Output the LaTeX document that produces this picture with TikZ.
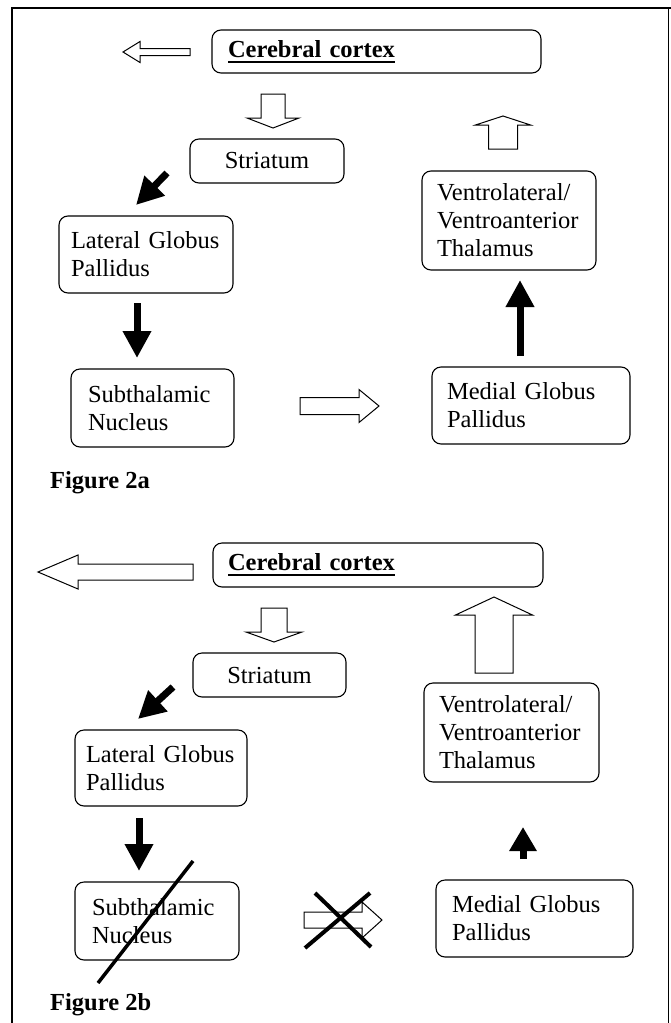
\documentclass[tikz,border=0pt]{standalone}
\usepackage{fontspec}
\setmainfont{Liberation Serif}
\usetikzlibrary{arrows.meta}
\newcommand\thickul[1]{\setbox0\hbox{#1}\leavevmode\rlap{\copy0}\rule[-5.5pt]{\wd0}{1.8pt}}
\begin{document}
\begin{tikzpicture}[x=1pt,y=-1pt,
  box/.style={draw, line width=1.1pt, rounded corners=9pt, inner ysep=0pt, font=\fontsize{24.5}{28}\selectfont},
  hollow/.style={draw, line width=1pt, fill=white, line join=miter},
  blk/.style={line width=7pt, -{Triangle[width=27pt,length=27pt]}},
  blkshort/.style={line width=7pt, -{Triangle[width=26pt,length=24pt]}},
  cross/.style={line width=4pt},
  lab/.style={anchor=west, inner sep=0pt, font=\fontsize{24.5}{28}\selectfont\bfseries}]
\useasboundingbox (0,0) rectangle (671,1023);
\fill[white] (0,0) rectangle (671,1023);
% frame
\draw[line width=2pt] (11,8) -- (671,8);
\draw[line width=1.5pt] (12,8) -- (12,1023);
\draw[line width=1pt] (668,8) -- (668,1023);

% ---------- Figure 2a ----------
\node[box, text width=297pt, inner xsep=16pt, minimum height=43pt, align=left] (cc1) at (376.5,51.5) {\textbf{\thickul{Cerebral cortex}}};
\node[box, minimum width=154pt, minimum height=44pt, align=center] (st1) at (267,161) {Striatum};
\node[box, text width=150pt, inner xsep=12pt, minimum height=77pt, align=left] (lgp1) at (146,254.5) {\mbox{Lateral Globus}\\Pallidus};
\node[box, text width=144pt, inner xsep=15pt, minimum height=99pt, align=left] (vl1) at (509,220.5) {Ventrolateral/\\Ventroanterior\\Thalamus};
\node[box, text width=129pt, inner xsep=17pt, minimum height=78pt, align=left] (stn1) at (152.5,408) {Subthalamic\\Nucleus};
\node[box, text width=168pt, inner xsep=15pt, minimum height=77pt, align=left] (mgp1) at (531,405.5) {\mbox{Medial Globus}\\Pallidus};
\node[lab] (f2a) at (50,483) {Figure 2a};

% hollow arrows 2a
\draw[hollow] (190,48.5) -- (140,48.5) -- (140,41.5) -- (123,52) -- (140,62.5) -- (140,55.5) -- (190,55.5) -- cycle;
\draw[hollow] (261,94) -- (285,94) -- (285,118) -- (299,118) -- (273,128) -- (247,118) -- (261,118) -- cycle;
\draw[hollow] (488.5,149) -- (488.5,125) -- (475.5,125) -- (503,116) -- (530.5,125) -- (517.5,125) -- (517.5,149) -- cycle;
\draw[hollow] (300,397.5) -- (359,397.5) -- (359,389.5) -- (379,406) -- (359,422.5) -- (359,414.5) -- (300,414.5) -- cycle;

% black arrows 2a
\coordinate (a1s) at (167,173); \coordinate (a1e) at (136,205);
\coordinate (a2s) at (137,303); \coordinate (a2e) at (137,358);
\coordinate (a3s) at (520,356); \coordinate (a3e) at (520,280);
\draw[blk] (a1s) -- (a1e);
\draw[blk] (a2s) -- (a2e);
\draw[blk] (a3s) -- (a3e);

% ---------- Figure 2b ----------
\node[box, text width=300pt, inner xsep=15pt, minimum height=44pt, align=left] (cc2) at (378,565) {\textbf{\thickul{Cerebral cortex}}};
\node[box, minimum width=153pt, minimum height=44pt, align=center] (st2) at (269.5,675) {Striatum};
\node[box, text width=150pt, inner xsep=11pt, minimum height=76pt, align=left] (lgp2) at (161,768) {\mbox{Lateral Globus}\\Pallidus};
\node[box, text width=145pt, inner xsep=15pt, minimum height=99pt, align=left] (vl2) at (511.5,732.5) {Ventrolateral/\\Ventroanterior\\Thalamus};
\node[box, text width=130pt, inner xsep=17pt, minimum height=78pt, align=left] (stn2) at (157,921) {Subthalamic\\Nucleus};
\node[box, text width=165pt, inner xsep=16pt, minimum height=77pt, align=left] (mgp2) at (534.5,918.5) {\mbox{Medial Globus}\\Pallidus};
\node[lab] (f2b) at (50,1005) {Figure 2b};

% hollow arrows 2b
\draw[hollow] (193,564) -- (78,564) -- (78,555) -- (38,572) -- (78,589) -- (78,580) -- (193,580) -- cycle;
\draw[hollow] (261,608) -- (287,608) -- (287,632) -- (302,632) -- (274,642) -- (246,632) -- (261,632) -- cycle;
\draw[hollow] (475,673) -- (475,615) -- (455.5,615) -- (494,597) -- (532.5,615) -- (513,615) -- (513,673) -- cycle;
\draw[hollow] (304,912) -- (362,912) -- (362,902) -- (382,920) -- (362,938) -- (362,928) -- (304,928) -- cycle;

% black arrows 2b
\coordinate (b1s) at (173,687); \coordinate (b1e) at (138,719);
\coordinate (b2s) at (139,818); \coordinate (b2e) at (139,871);
\coordinate (b3s) at (523,859); \coordinate (b3e) at (523,827);
\draw[blk] (b1s) -- (b1e);
\draw[blk] (b2s) -- (b2e);
\draw[blkshort] (b3s) -- (b3e);

% strike-outs
\coordinate (s1) at (193,861); \coordinate (s2) at (98,983);
\draw[line width=3.5pt] (s1) -- (s2);
\coordinate (x1) at (315,893); \coordinate (x2) at (371,947);
\coordinate (x3) at (370,893); \coordinate (x4) at (305,948);
\draw[cross] (x1) -- (x2);
\draw[cross] (x3) -- (x4);
\end{tikzpicture}
\end{document}
